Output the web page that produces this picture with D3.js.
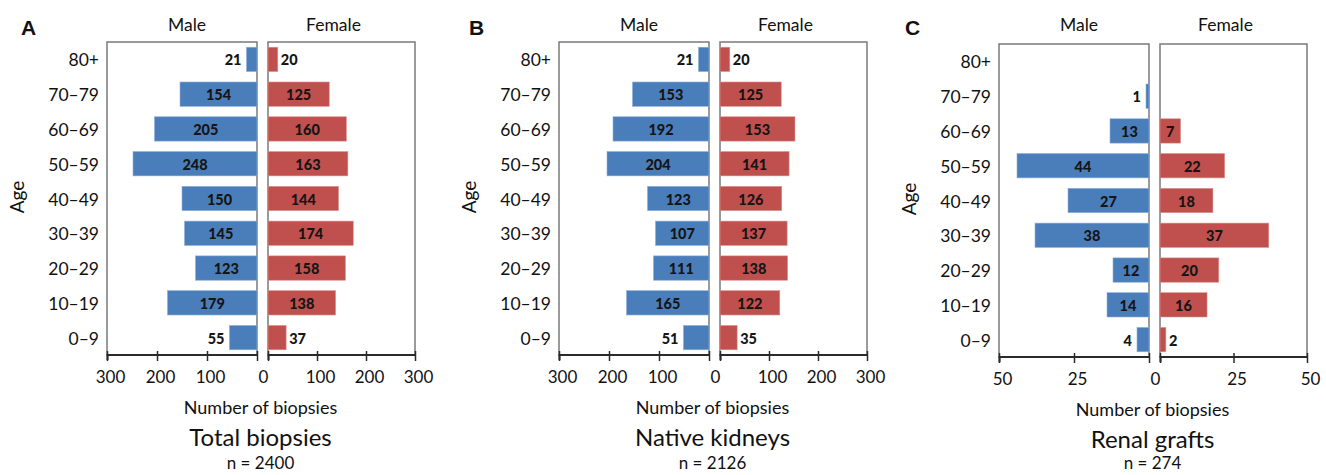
<!DOCTYPE html>
<html><head><meta charset="utf-8">
<script src="https://cdn.jsdelivr.net/npm/d3@7"></script>
<style>
html,body{margin:0;padding:0;background:#fff;}
svg{display:block;font-family:Lato,"Open Sans",sans-serif;}
</style></head>
<body>
<svg id="chart" width="1326" height="475"></svg>
<script>
// ---------- data ----------
const ageGroups = ["80+","70–79","60–69","50–59","40–49","30–39","20–29","10–19","0–9"];

const totalMale    = [21,154,205,248,150,145,123,179,55];
const totalFemale  = [20,125,160,163,144,174,158,138,37];
const nativeMale   = [21,153,192,204,123,107,111,165,51];
const nativeFemale = [20,125,153,141,126,137,138,122,35];
const graftMale    = [null,1,13,44,27,38,12,14,4];
const graftFemale  = [null,null,7,22,18,37,20,16,2];

const ticksBiopsies = [0,100,200,300];
const ticksGrafts   = [0,25,50];

const panelLetters = ["A","B","C"];
const panelTitles  = ["Total biopsies","Native kidneys","Renal grafts"];
const panelCounts  = ["n = 2400","n = 2126","n = 274"];
const sexLabels    = ["Male","Female"];
const axisTitle    = "Number of biopsies";
const ageTitle     = "Age";

// ---------- layout ----------
const BLUE = "#4a7ebb", RED = "#c0504d";
const svg = d3.select("#chart");

const panels = [
  {male: totalMale,  female: totalFemale,  max: 300, ticks: ticksBiopsies, x0: 107, dy: 0, insideMinM: 60, insideMinF: 60},
  {male: nativeMale, female: nativeFemale, max: 300, ticks: ticksBiopsies, x0: 559, dy: 0, insideMinM: 60, insideMinF: 60},
  {male: graftMale,  female: graftFemale,  max: 50,  ticks: ticksGrafts,   x0: 999, dy: 2, insideMinM: 5,  insideMinF: 5}
];

const MALE_W = 150, GAP = 11, FEMALE_W = 147;
const TOP = 42, AXIS_Y = 355;
const TXT = "#111";

panels.forEach((p, i) => {
  const g = svg.append("g").attr("transform", `translate(0,${p.dy})`);
  const mL = p.x0, mR = p.x0 + MALE_W, fL = mR + GAP, fR = fL + FEMALE_W;
  const xM = d3.scaleLinear().domain([p.max, 0]).range([mL, mR]);
  const xF = d3.scaleLinear().domain([0, p.max]).range([fL, fR]);
  const y = d3.scaleBand().domain(ageGroups).range([TOP, AXIS_Y]).paddingInner(0.3).paddingOuter(0.15);
  const bw = y.bandwidth();

  // plot-area boxes
  [[mL, mR], [fL, fR]].forEach(([a, b]) => {
    g.append("rect").attr("x", a).attr("y", TOP).attr("width", b - a).attr("height", AXIS_Y - TOP)
      .attr("fill", "none").attr("stroke", "#7a7a7a").attr("stroke-width", 1.5);
  });

  // bars
  const rows = ageGroups.map((a, k) => ({age: a, m: p.male[k], f: p.female[k]}));
  g.selectAll(".bm").data(rows.filter(d => d.m)).join("rect")
    .attr("x", d => xM(d.m)).attr("y", d => y(d.age))
    .attr("width", d => xM(0) - xM(d.m)).attr("height", bw)
    .attr("fill", BLUE).attr("stroke", "#8fb0d8").attr("stroke-width", 0.6);
  g.selectAll(".bf").data(rows.filter(d => d.f)).join("rect")
    .attr("x", xF(0)).attr("y", d => y(d.age))
    .attr("width", d => xF(d.f) - xF(0)).attr("height", bw)
    .attr("fill", RED).attr("stroke", "#dc9391").attr("stroke-width", 0.6);

  // value labels
  const styleLab = sel => sel.attr("font-size", "14.5px").attr("font-weight", "900").attr("fill", "#151515");
  g.selectAll(".lm").data(rows.filter(d => d.m)).join("text")
    .attr("x", d => d.m >= p.insideMinM ? (xM(d.m) + xM(0)) / 2 : xM(d.m) - 5)
    .attr("y", d => y(d.age) + bw / 2 + 6)
    .attr("text-anchor", d => d.m >= p.insideMinM ? "middle" : "end")
    .text(d => d.m).call(styleLab);
  g.selectAll(".lf").data(rows.filter(d => d.f)).join("text")
    .attr("x", d => d.f >= p.insideMinF ? (xF(d.f) + xF(0)) / 2 : xF(d.f) + 3)
    .attr("y", d => y(d.age) + bw / 2 + 6)
    .attr("text-anchor", d => d.f >= p.insideMinF ? "middle" : "start")
    .text(d => d.f).call(styleLab);

  // bottom axes (cross tick marks)
  const axM = d3.axisBottom(xM).tickValues(p.ticks).tickSize(5).tickFormat(v => v === 0 ? "" : v);
  const axF = d3.axisBottom(xF).tickValues(p.ticks).tickSize(5).tickFormat(v => v === 0 ? "" : v);
  [axM, axF].forEach(ax => {
    const a = g.append("g").attr("transform", `translate(0,${AXIS_Y})`).call(ax);
    a.select(".domain").attr("stroke", "#2a2a2a").attr("stroke-width", 2)
      .attr("d", function(){ return d3.select(this).attr("d").replace(/V\d+(\.\d+)?/g, "V0"); });
    a.selectAll(".tick line").attr("stroke", "#2a2a2a").attr("stroke-width", 1.5).attr("y1", -4).attr("y2", 6);
    a.selectAll(".tick text").attr("font-size", "17px").attr("fill", TXT).attr("y", 28).attr("dy", 0)
      .attr("dx", 3).attr("font-family", "Lato, sans-serif");
  });
  // shared zero label
  g.append("text").attr("x", (mR + fL) / 2 + 1).attr("y", AXIS_Y + 28).attr("text-anchor", "middle")
    .attr("font-size", "17px").attr("fill", TXT).text("0");

  // age labels
  g.selectAll(".age").data(ageGroups).join("text")
    .attr("x", mL - 8).attr("y", d => y(d) + bw / 2 + 7).attr("text-anchor", "end")
    .attr("font-size", "17.5px").attr("fill", TXT).text(d => d);

  // age title
  g.append("text").attr("transform", `translate(${mL - 83},${197}) rotate(-90)`)
    .attr("text-anchor", "middle").attr("font-size", "19px").attr("fill", TXT).text(ageTitle);

  // panel letter
  svg.append("text").attr("x", mL - 86 - i * 4).attr("y", 35).attr("font-family", "Liberation Sans, Arial, sans-serif")
    .attr("font-weight", "bold").attr("font-size", "21px").attr("fill", TXT).text(panelLetters[i]);

  // sex titles
  g.append("text").attr("x", (mL + mR) / 2 + 5).attr("y", 31 - p.dy).attr("text-anchor", "middle")
    .attr("font-size", "17.5px").attr("fill", TXT).text(sexLabels[0]);
  g.append("text").attr("x", (fL + fR) / 2 - 8).attr("y", 31 - p.dy).attr("text-anchor", "middle")
    .attr("font-size", "17.5px").attr("fill", TXT).text(sexLabels[1]);

  // bottom texts
  const cx = (mR + fL) / 2 - 2;
  g.append("text").attr("x", cx).attr("y", 414).attr("text-anchor", "middle")
    .attr("font-size", "18px").attr("fill", TXT).text(axisTitle);
  g.append("text").attr("x", cx).attr("y", 446).attr("text-anchor", "middle")
    .attr("font-size", "24px").attr("fill", TXT).text(panelTitles[i]);
  svg.append("text").attr("x", cx).attr("y", 469).attr("text-anchor", "middle")
    .attr("font-size", "17px").attr("fill", TXT).text(panelCounts[i]);
});
</script>
</body></html>
